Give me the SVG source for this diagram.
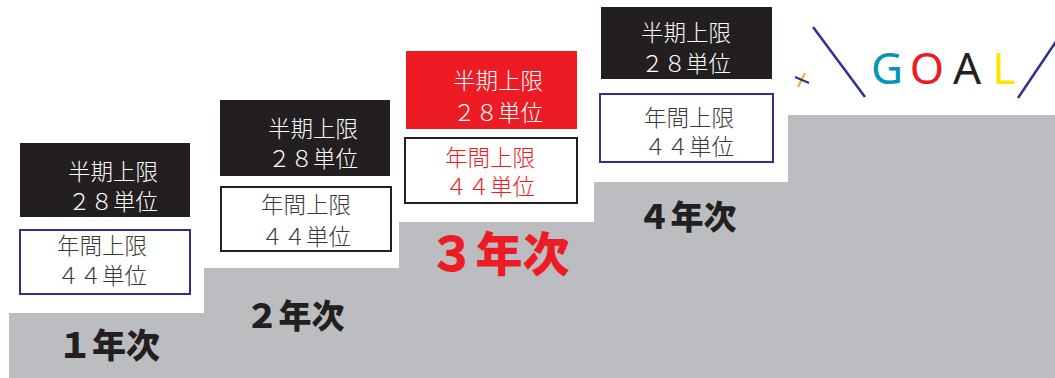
<svg xmlns="http://www.w3.org/2000/svg" width="1055" height="378" viewBox="0 0 1055 378">
<style>
.jp{font-family:"Noto Sans CJK JP","Noto Sans",sans-serif;text-anchor:middle}
.bx{font-size:22.5px;font-weight:300}
.w{fill:#ffffff}
.d{fill:#3a3a3a}
.r{fill:#ed1c24}
.yr{font-weight:900;fill:#231f20}
.blk{fill:#231f20}
.ob{fill:#ffffff;stroke:#2e3192;stroke-width:2}
.ok{fill:#ffffff;stroke:#231f20;stroke-width:2}
.g{font-family:"Noto Sans","DejaVu Sans",sans-serif;font-size:44px;text-anchor:middle}
</style>
<rect width="1055" height="378" fill="#ffffff"/>
<path id="stairs" d="M9,378 V313 H204 V268 H399 V222 H594 V182 H788 V115 H1055 V378 Z" fill="#bcbdc0"/>
<g id="year1">
<rect class="blk" x="20" y="143" width="170" height="74"/>
<text class="jp bx w" x="113" y="180">半期上限</text>
<text class="jp bx w" x="113" y="210">２８単位</text>
<rect class="ob" x="20" y="230" width="170" height="64"/>
<text class="jp bx d" x="102" y="254">年間上限</text>
<text class="jp bx d" x="102" y="284">４４単位</text>
<text class="jp yr" x="109" y="358" font-size="34">１年次</text>
</g>
<g id="year2">
<rect class="blk" x="220" y="100" width="170" height="76"/>
<text class="jp bx w" x="313" y="137">半期上限</text>
<text class="jp bx w" x="313" y="167">２８単位</text>
<rect class="ok" x="221" y="187" width="170" height="64"/>
<text class="jp bx d" x="306" y="213">年間上限</text>
<text class="jp bx d" x="306" y="245">４４単位</text>
<text class="jp yr" x="295" y="328" font-size="33">２年次</text>
</g>
<g id="year3">
<rect x="406" y="51" width="171" height="78" fill="#ed1c24"/>
<text class="jp bx w" x="498" y="89">半期上限</text>
<text class="jp bx w" x="498" y="121">２８単位</text>
<rect class="ok" x="405" y="138" width="172" height="65"/>
<text class="jp bx r" x="490" y="166">年間上限</text>
<text class="jp bx r" x="490" y="195">４４単位</text>
<text class="jp" x="499" y="271" font-size="47" font-weight="900" fill="#ed1c24">３年次</text>
</g>
<g id="year4">
<rect class="blk" x="601" y="7" width="171" height="72"/>
<text class="jp bx w" x="686" y="41">半期上限</text>
<text class="jp bx w" x="686" y="72">２８単位</text>
<rect class="ob" x="600" y="94" width="173" height="68"/>
<text class="jp bx d" x="689" y="126">年間上限</text>
<text class="jp bx d" x="689" y="155">４４単位</text>
<text class="jp yr" x="687" y="229" font-size="33">４年次</text>
</g>
<g id="goal">
<line x1="813" y1="27" x2="865" y2="97" stroke="#2e3192" stroke-width="2.5"/>
<line x1="1018" y1="98" x2="1057" y2="40" stroke="#2e3192" stroke-width="2.5"/>
<line x1="798" y1="87" x2="805" y2="73" stroke="#f7a823" stroke-width="2"/>
<line x1="795" y1="77" x2="809" y2="83" stroke="#2e3192" stroke-width="2"/>
<text class="g" x="887" y="84" fill="#0096b4">G</text>
<text class="g" x="927" y="84" fill="#ed1c24">O</text>
<text class="g" x="967" y="84" fill="#231f20">A</text>
<text class="g" x="1004" y="84" fill="#ffe600">L</text>
</g>
</svg>
